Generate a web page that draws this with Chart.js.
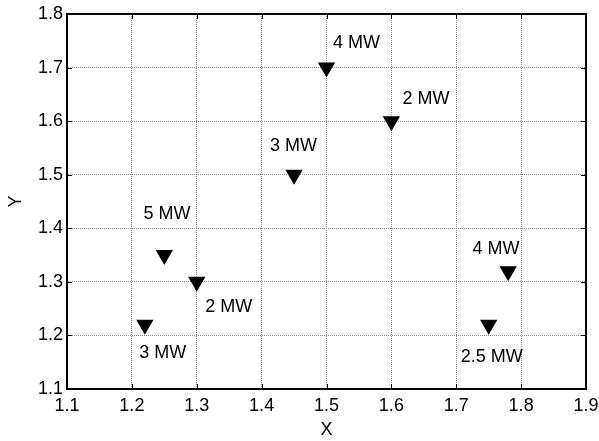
<!DOCTYPE html>
<html>
<head>
<meta charset="utf-8">
<script src="https://cdn.jsdelivr.net/npm/chart.js@4"></script>
<style>
  body { margin: 0; background: #fff; }
  #wrap { width: 599px; height: 441px; }
</style>
</head>
<body>
<div id="wrap"><canvas id="scatter" width="599" height="441"></canvas></div>
<script>
// site positions and their power ratings
var xValues = [1.22, 1.25, 1.30, 1.45, 1.50, 1.60, 1.75, 1.78];
var yValues = [1.22, 1.35, 1.30, 1.50, 1.70, 1.60, 1.22, 1.32];
var powerLabels = ['3 MW', '5 MW', '2 MW', '3 MW', '4 MW', '2 MW', '2.5 MW', '4 MW'];
// where each text annotation sits (data units, left edge / middle)
var labelX = [1.2115, 1.218, 1.313, 1.413, 1.51, 1.617, 1.707, 1.725];
var labelY = [1.167, 1.427, 1.2525, 1.554, 1.745, 1.641, 1.159, 1.361];
// axis ranges
var xRange = [1.1, 1.9];
var yRange = [1.1, 1.8];
var tickStep = 0.1;

var fontFamily = "'Liberation Sans', Arial, sans-serif";

var points = xValues.map(function (x, i) { return { x: x, y: yValues[i] }; });

// MATLAB style box with inward tick marks
var boxPlugin = {
    id: 'box',
    afterDraw: function (chart) {
        var ctx = chart.ctx;
        var a = chart.chartArea;
        var xs = chart.scales.x, ys = chart.scales.y;
        ctx.save();
        ctx.strokeStyle = '#000';
        ctx.lineWidth = 2;
        ctx.strokeRect(a.left, a.top, a.right - a.left, a.bottom - a.top);
        ctx.lineWidth = 1;
        ctx.beginPath();
        xs.ticks.forEach(function (t, i) {
            var px = Math.round(xs.getPixelForTick(i)) + 0.5;
            ctx.moveTo(px, a.bottom); ctx.lineTo(px, a.bottom - 5);
            ctx.moveTo(px, a.top); ctx.lineTo(px, a.top + 5);
        });
        ys.ticks.forEach(function (t, i) {
            var py = Math.round(ys.getPixelForTick(i)) + 0.5;
            ctx.moveTo(a.left, py); ctx.lineTo(a.left + 5, py);
            ctx.moveTo(a.right, py); ctx.lineTo(a.right - 5, py);
        });
        ctx.stroke();
        ctx.restore();
    }
};

// text annotations
var textPlugin = {
    id: 'mwText',
    afterDatasetsDraw: function (chart) {
        var ctx = chart.ctx;
        var xs = chart.scales.x, ys = chart.scales.y;
        ctx.save();
        ctx.font = '18px ' + fontFamily;
        ctx.fillStyle = '#000';
        ctx.textAlign = 'left';
        ctx.textBaseline = 'middle';
        powerLabels.forEach(function (txt, i) {
            ctx.fillText(txt, xs.getPixelForValue(labelX[i]), ys.getPixelForValue(labelY[i]));
        });
        ctx.restore();
    }
};

var ctx = document.getElementById('scatter').getContext('2d');
var chart = new Chart(ctx, {
    type: 'scatter',
    data: {
        datasets: [{
            data: points,
            pointStyle: 'triangle',
            rotation: 180,
            pointRadius: 10,
            pointHoverRadius: 10,
            backgroundColor: '#000',
            borderWidth: 0
        }]
    },
    options: {
        responsive: false,
        animation: false,
        events: [],
        layout: { padding: { left: 0, right: 13, top: 14, bottom: 0 } },
        plugins: {
            legend: { display: false },
            tooltip: { enabled: false }
        },
        scales: {
            x: {
                type: 'linear',
                min: xRange[0],
                max: xRange[1],
                afterFit: function (s) { s.height = 52; s.paddingLeft = 0; s.paddingRight = 0; },
                ticks: {
                    stepSize: tickStep,
                    padding: 6,
                    color: '#000',
                    font: { family: fontFamily, size: 18 },
                    callback: function (v) { return v.toFixed(1); }
                },
                grid: { color: '#8c8c8c', drawTicks: false },
                border: { color: '#000', width: 2, dash: [1, 1] },
                title: {
                    display: true,
                    text: 'X',
                    color: '#000',
                    font: { family: fontFamily, size: 18 },
                    padding: { top: 0, bottom: 0 }
                }
            },
            y: {
                type: 'linear',
                min: yRange[0],
                max: yRange[1],
                afterFit: function (s) { s.width = 67; s.paddingTop = 0; s.paddingBottom = 0; },
                ticks: {
                    stepSize: tickStep,
                    padding: 4,
                    color: '#000',
                    font: { family: fontFamily, size: 18 },
                    callback: function (v) { return v.toFixed(1); }
                },
                grid: { color: '#8c8c8c', drawTicks: false },
                border: { color: '#000', width: 2, dash: [1, 1] },
                title: {
                    display: true,
                    text: 'Y',
                    color: '#000',
                    font: { family: fontFamily, size: 18 },
                    padding: { top: 5, bottom: 0 }
                }
            }
        }
    },
    plugins: [boxPlugin, textPlugin]
});
</script>
</body>
</html>
